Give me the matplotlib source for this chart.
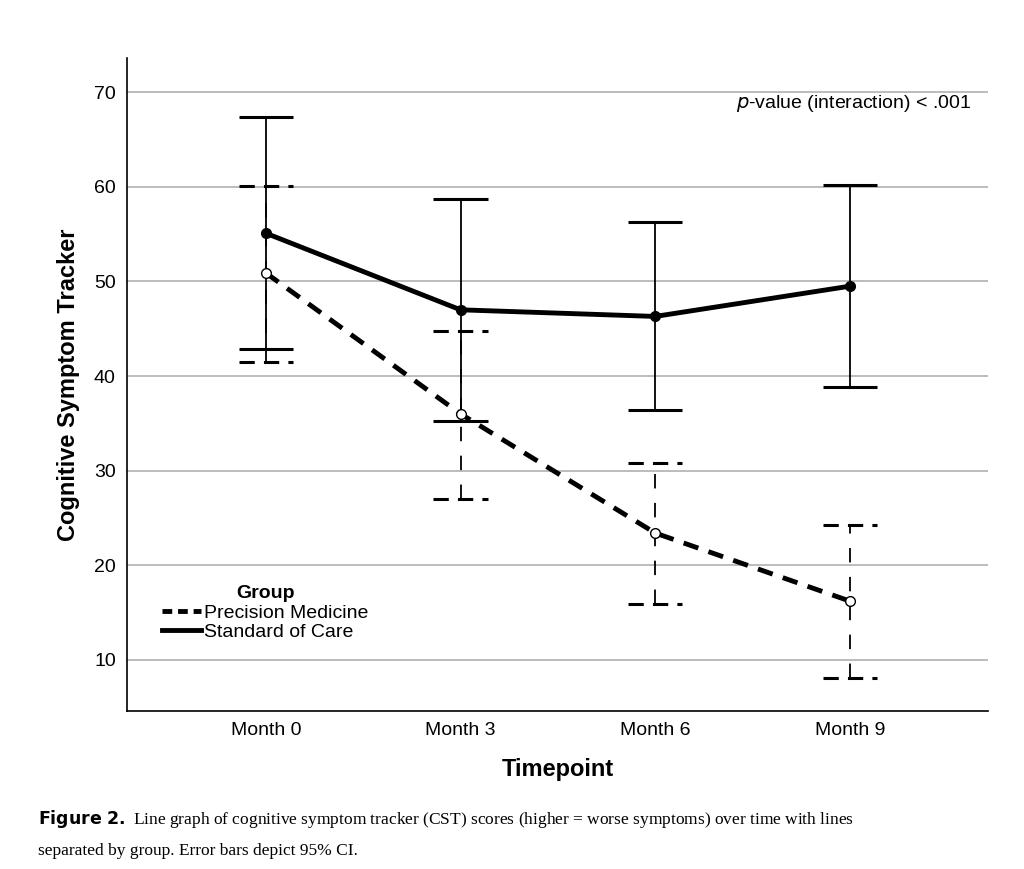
import matplotlib
matplotlib.use("Agg")
import matplotlib.pyplot as plt
from matplotlib.lines import Line2D

# ------------- DATA -------------
months = ["Month 0", "Month 3", "Month 6", "Month 9"]
soc_mean = [55.1, 47.0, 46.3, 49.5]
soc_low = [42.9, 35.2, 36.4, 38.8]
soc_high = [67.4, 58.7, 56.3, 60.2]
pm_mean = [50.9, 36.0, 23.4, 16.2]
pm_low = [41.5, 27.0, 15.9, 8.1]
pm_high = [60.1, 44.8, 30.8, 24.3]
# --------------------------------

plt.rcParams["font.family"] = ["Liberation Sans", "DejaVu Sans"]
fig = plt.figure(figsize=(10.24, 8.69), dpi=100)
ax = fig.add_axes([0.124, 0.182, 0.841, 0.751])
x = list(range(len(months)))
cap = 0.14
dash = (0, (3.2, 2.2))

ax.yaxis.grid(True, color="#b0b0b0", linewidth=1.2)
ax.set_axisbelow(True)

# Standard of Care
ax.vlines(x, soc_low, soc_high, color="black", linewidth=1.3, zorder=2)
ax.hlines(soc_low + soc_high, [i - cap for i in x] * 2, [i + cap for i in x] * 2,
          color="black", linewidth=2.2, zorder=2)
ax.plot(x, soc_mean, color="black", linewidth=3.5, marker="o", markersize=7, zorder=3)

# Precision Medicine
ax.vlines(x, pm_low, pm_high, color="black", linewidth=1.3, linestyles=[(0, (8, 8))], zorder=2)
ax.hlines(pm_low + pm_high, [i - cap for i in x] * 2, [i + cap for i in x] * 2,
          color="black", linewidth=2.2, linestyles=[(0, (5, 3))], zorder=2)
ax.plot(x, pm_mean, color="black", linewidth=3.5, linestyle=dash, zorder=3)
ax.plot(x, pm_mean, linestyle="none", marker="o", markersize=7, markerfacecolor="white",
        markeredgecolor="black", markeredgewidth=1, zorder=4)

ax.set_xlim(-0.713, 3.71)
ax.set_ylim(4.6, 73.6)
ax.set_xticks(x)
ax.set_xticklabels(months, fontsize=14)
ax.set_yticks(range(10, 80, 10))
ax.tick_params(axis="y", labelsize=14, length=0, pad=8)
ax.tick_params(axis="x", length=0, pad=8)
for s in ["top", "right"]:
    ax.spines[s].set_visible(False)
ax.spines["left"].set_linewidth(1.2)
ax.spines["bottom"].set_linewidth(1.2)

ax.set_xlabel("Timepoint", fontsize=17, fontweight="bold", labelpad=14)
ax.set_ylabel("Cognitive Symptom Tracker", fontsize=17, fontweight="bold", labelpad=10)

ax.text(0.98, 0.93, r"$p$-value (interaction) < .001", transform=ax.transAxes,
        ha="right", va="center", fontsize=14)

handles = [Line2D([], [], color="black", linewidth=3.5, linestyle=(0, (2, 1.2))),
           Line2D([], [], color="black", linewidth=3.5)]
leg = ax.legend(handles, ["Precision Medicine", "Standard of Care"], loc="lower left",
                bbox_to_anchor=(0.02, 0.08), title="Group", frameon=False, fontsize=14,
                handlelength=2.0, handletextpad=0.2, labelspacing=0.1)
leg.get_title().set_fontweight("bold")
leg.get_title().set_fontsize(14)

fig.text(0.037, 0.045,
         r"$\bf{Figure\ 2.}$ Line graph of cognitive symptom tracker (CST) scores (higher = worse symptoms) over time with lines",
         fontsize=12.5, family="Liberation Serif", va="bottom")
fig.text(0.037, 0.012, "separated by group. Error bars depict 95% CI.",
         fontsize=12.5, family="Liberation Serif", va="bottom")

fig.savefig("out.png", dpi=100)
